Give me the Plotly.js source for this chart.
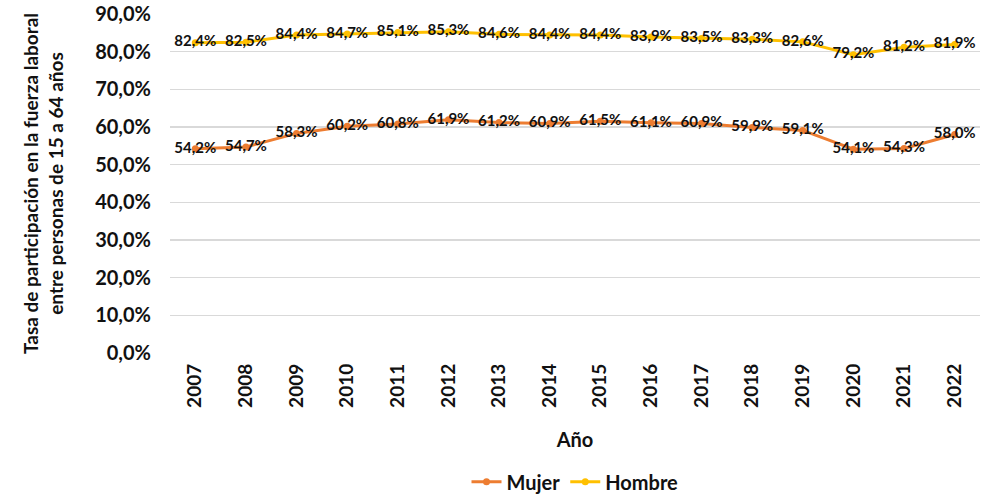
<!DOCTYPE html>
<html><head><meta charset="utf-8">
<script src="https://cdn.plot.ly/plotly-3.0.1.min.js"></script>
<style>html,body{margin:0;padding:0;background:#fff}#chart{width:1000px;height:500px}</style>
</head><body><div id="chart"></div>
<script>
const years = ['2007','2008','2009','2010','2011','2012','2013','2014','2015','2016','2017','2018','2019','2020','2021','2022'];
const mujer = [54.2,54.7,58.3,60.2,60.8,61.9,61.2,60.9,61.5,61.1,60.9,59.9,59.1,54.1,54.3,58.0];
const hombre = [82.4,82.5,84.4,84.7,85.1,85.3,84.6,84.4,84.4,83.9,83.5,83.3,82.6,79.2,81.2,81.9];
const yTicks = [0,10,20,30,40,50,60,70,80,90];
const fmt = v => v.toFixed(1).replace('.', ',') + '%';
const FONT = 'Lato, "Liberation Sans", sans-serif';
function tr(name, vals, color){
  return {x: years, y: vals, name: name, type:'scatter', mode:'lines+markers+text',
    line:{color:color, width:3}, marker:{color:color, size:7},
    text: vals.map(fmt), textposition:'middle center',
    textfont:{family:FONT, size:15, color:'#111', weight:700}, cliponaxis:false};
}
Plotly.newPlot('chart', [tr('Mujer', mujer, '#ED7D31'), tr('Hombre', hombre, '#FFC000')], {
  width:1000, height:500,
  margin:{l:170, r:20, t:14, b:147, autoexpand:false},
  paper_bgcolor:'#fff', plot_bgcolor:'#fff',
  font:{family:FONT, color:'#111'},
  xaxis:{type:'category', range:[-0.5, years.length-0.5], tickangle:-90, tickfont:{size:19, weight:700, family:FONT},
    showgrid:false, zeroline:false, showline:false, ticks:'', ticklen:0, automargin:false,
    ticklabelstandoff:6,
    title:{text:'Año', font:{size:20, weight:700, family:FONT}, standoff:26}},
  yaxis:{range:[0,90], tickvals:yTicks, ticktext:yTicks.map(fmt), automargin:false,
    tickfont:{size:20, weight:700, family:FONT}, gridcolor:'#d9d9d9', gridwidth:1.5,
    zeroline:false, showline:false, ticks:'', ticklabelstandoff:18,
    title:{text:'Tasa de participación en la fuerza laboral<br>entre personas de 15 a 64 años', font:{size:19, weight:700, family:FONT}, standoff:26}},
  legend:{orientation:'h', x:0.5, xanchor:'center', xref:'plot', y:-0.38, yanchor:'middle', font:{size:20, weight:700, family:FONT}},
  showlegend:true
}, {staticPlot:true});
</script></body></html>
